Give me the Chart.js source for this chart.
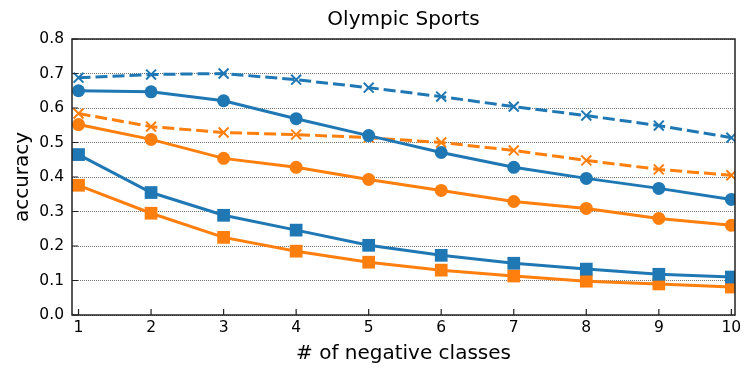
<!DOCTYPE html>
<html>
<head>
<meta charset="utf-8">
<script src="https://cdn.jsdelivr.net/npm/chart.js@4"></script>
<style>
  html, body { margin: 0; padding: 0; background: #fff; }
  #wrap { width: 747px; height: 376px; }
</style>
</head>
<body>
<div id="wrap"><canvas id="c"></canvas></div>
<script>
const negClasses = [1, 2, 3, 4, 5, 6, 7, 8, 9, 10];
const yTicks = [0, 0.1, 0.2, 0.3, 0.4, 0.5, 0.6, 0.7, 0.8];

const blueCross   = [0.688, 0.697, 0.700, 0.682, 0.659, 0.633, 0.604, 0.578, 0.549, 0.514];
const orangeCross = [0.584, 0.546, 0.529, 0.523, 0.514, 0.500, 0.477, 0.448, 0.422, 0.405];
const blueCircle  = [0.650, 0.647, 0.621, 0.569, 0.520, 0.471, 0.428, 0.396, 0.367, 0.335];
const orangeCircle= [0.552, 0.509, 0.454, 0.428, 0.393, 0.361, 0.329, 0.309, 0.280, 0.260];
const blueSquare  = [0.465, 0.355, 0.289, 0.246, 0.202, 0.173, 0.150, 0.133, 0.118, 0.110];
const orangeSquare= [0.376, 0.295, 0.225, 0.185, 0.153, 0.130, 0.113, 0.098, 0.090, 0.081];

const BLUE = "#1f77b4", ORANGE = "#ff7f0e";

function series(vals, color, style, dashed) {
  return {
    data: vals.map((v, i) => ({ x: negClasses[i], y: v })),
    borderColor: color,
    backgroundColor: color,
    borderWidth: 3,
    borderDash: dashed ? [12, 5] : [],
    pointStyle: style,
    pointRadius: style === "rect" ? 9 : (style === "crossRot" ? 7 : 6.5),
    pointBorderWidth: style === "crossRot" ? 2 : 0,
    pointBorderColor: color,
    pointBackgroundColor: color,
    tension: 0
  };
}

// frame + inward ticks
const framePlugin = {
  id: "frame",
  afterDraw(chart) {
    const { ctx, chartArea: a, scales } = chart;
    ctx.save();
    ctx.strokeStyle = "#222";
    ctx.lineWidth = 1.5;
    ctx.strokeRect(a.left, a.top, a.right - a.left, a.bottom - a.top);
    ctx.lineWidth = 1.2;
    ctx.beginPath();
    negClasses.forEach(v => {
      const x = scales.x.getPixelForValue(v);
      ctx.moveTo(x, a.bottom); ctx.lineTo(x, a.bottom - 6);
    });
    yTicks.forEach(v => {
      const y = scales.y.getPixelForValue(v);
      ctx.moveTo(a.left, y); ctx.lineTo(a.left + 6, y);
    });
    ctx.stroke();
    ctx.restore();
  }
};

new Chart(document.getElementById("c"), {
  type: "line",
  data: {
    datasets: [
      series(blueSquare, BLUE, "rect", false),
      series(orangeSquare, ORANGE, "rect", false),
      series(blueCircle, BLUE, "circle", false),
      series(orangeCircle, ORANGE, "circle", false),
      series(blueCross, BLUE, "crossRot", true),
      series(orangeCross, ORANGE, "crossRot", true)
    ]
  },
  options: {
    responsive: true,
    maintainAspectRatio: false,
    animation: false,
    layout: { padding: { top: 4, right: 12, left: 4, bottom: 7 } },
    plugins: {
      legend: { display: false },
      tooltip: { enabled: false },
      title: {
        display: true,
        fullSize: false,
        text: "Olympic Sports",
        color: "#000",
        font: { family: "DejaVu Sans", size: 20, weight: "normal" },
        padding: { top: 4, bottom: 7 }
      }
    },
    scales: {
      x: {
        type: "linear",
        min: 0.91,
        max: 10.05,
        afterBuildTicks(scale) { scale.ticks = negClasses.map(v => ({ value: v })); },
        afterFit(scale) { scale.height = 54; },
        ticks: {
          color: "#000",
          font: { family: "DejaVu Sans", size: 15.5 },
          padding: 4,
          maxRotation: 0,
          callback: v => String(v)
        },
        grid: { display: false, drawTicks: false },
        border: { display: false },
        title: {
          display: true,
          text: "# of negative classes",
          color: "#000",
          font: { family: "DejaVu Sans", size: 20 },
          padding: { top: 0, bottom: 3 }
        }
      },
      y: {
        min: 0,
        max: 0.8,
        afterBuildTicks(scale) { scale.ticks = yTicks.map(v => ({ value: v })); },
        afterFit(scale) { scale.width = 68; },
        ticks: {
          color: "#000",
          font: { family: "DejaVu Sans", size: 15.5 },
          padding: 8,
          callback: v => v.toFixed(1)
        },
        grid: {
          drawTicks: false,
          color: "#555",
          lineWidth: 0.8,
          borderDash: [1, 1]
        },
        border: { display: false, dash: [1, 1] },
        title: {
          display: true,
          text: "accuracy",
          color: "#000",
          font: { family: "DejaVu Sans", size: 20 },
          padding: { top: 7, bottom: 1 }
        }
      }
    }
  },
  plugins: [framePlugin]
});
</script>
</body>
</html>
